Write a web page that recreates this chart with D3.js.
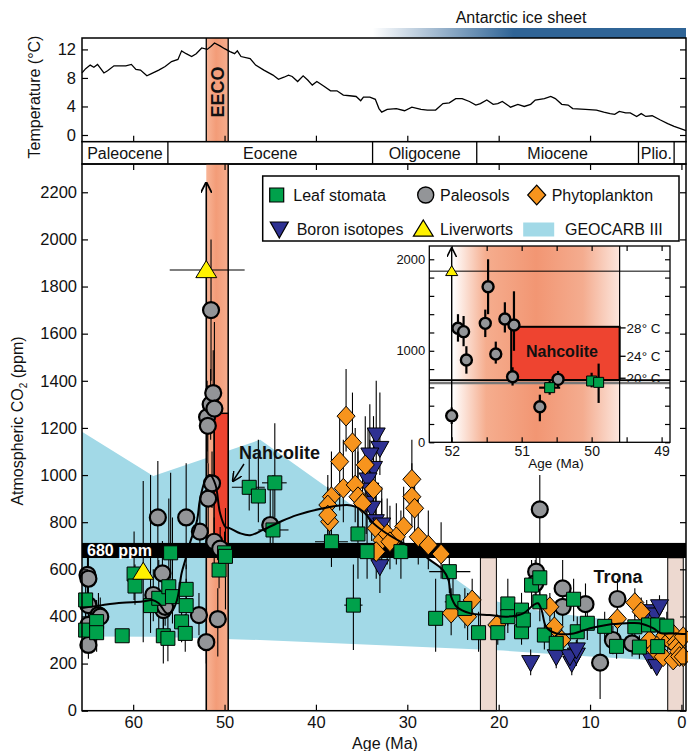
<!DOCTYPE html>
<html><head><meta charset="utf-8">
<script src="https://cdn.jsdelivr.net/npm/d3@7"></script>
<style>
body{margin:0;background:#fff}
svg{display:block}
text{font-family:"Liberation Sans",Arial,Helvetica,sans-serif;fill:#111}
</style>
</head><body>
<svg id="c" width="688" height="751"></svg>
<script>
// ---------------- DATA ----------------
// Temperature curve [age Ma, °C]
const tempCurve = [[65.6,8.7],[65.2,9.3],[64.7,9.8],[64.3,9.5],[63.9,9.9],[63.2,8.7],[62.8,9.0],[62.1,9.7],[61.6,9.7],[60.8,9.7],[60.2,9.9],[59.7,9.2],[59.2,9.1],[58.5,8.3],[58.0,8.6],[57.2,9.1],[56.5,9.6],[55.8,10.3],[55.1,10.6],[54.7,11.8],[54.2,11.4],[53.6,11.0],[53.1,11.4],[52.5,12.2],[51.9,12.0],[51.5,12.4],[51.1,12.9],[50.5,12.5],[50.0,12.1],[49.4,11.7],[48.9,11.4],[48.6,11.8],[48.2,11.0],[47.2,10.7],[46.6,9.8],[45.7,9.1],[44.7,8.4],[44.1,7.8],[43.5,8.1],[43.0,8.4],[42.6,8.2],[42.0,7.5],[41.4,8.3],[40.9,7.7],[40.4,7.0],[39.9,7.5],[39.2,6.9],[38.4,6.2],[37.7,6.2],[37.0,5.6],[36.3,5.5],[35.6,5.4],[35.1,4.8],[34.8,5.3],[34.1,5.3],[33.5,5.0],[33.1,3.7],[32.8,3.2],[32.2,3.6],[31.2,3.7],[30.3,3.4],[29.5,3.9],[28.5,3.6],[27.8,3.5],[26.9,3.5],[26.1,4.4],[25.4,4.5],[24.7,5.1],[24.0,5.1],[23.2,4.7],[22.5,4.2],[22.0,4.4],[21.3,4.9],[20.6,4.3],[20.1,4.4],[19.6,4.7],[18.7,3.9],[17.9,4.3],[17.2,4.0],[16.5,4.3],[16.0,4.9],[15.0,5.1],[14.3,5.4],[13.8,5.1],[13.1,4.3],[12.4,4.2],[11.9,3.7],[10.5,3.6],[9.3,3.5],[8.5,3.2],[7.8,3.0],[7.3,2.9],[6.8,3.3],[6.1,3.1],[5.6,3.1],[4.9,2.6],[4.4,3.0],[3.9,2.6],[3.2,2.7],[2.3,2.1],[1.5,1.6],[0.8,1.2],[0.1,0.9],[-0.5,0.6]];

const epochNames = ["Paleocene","Eocene","Oligocene","Miocene","Plio.",""];
const epochBounds = [65.6,56.2,33.8,22.4,4.7,0.8,-0.5];

const tempTicks = [0,4,8,12];
const co2Ticks = [0,200,400,600,800,1000,1200,1400,1600,1800,2000,2200];
const ageTicks = [0,10,20,30,40,50,60];
const insetAgeTicks = [52,51,50,49];
const insetCo2Ticks = [0,1000,2000];

// GEOCARB III envelope [age, lower, upper]
const geocarb = [[65.6,315,1184],[57.8,314,996],[46.1,300,1150],[22.0,260,484],[19.5,255,456],[15,243,420],[10,230,395],[5,218,372],[0,207,352],[-0.5,206,350]];

// Proxy records: [age, ppm, errLow, errHigh, ageErrOld, ageErrYoung]
const leafStomata = [
[65.2,470,400,560],[65.2,342,270,420],[64.0,378,300,470],[64.0,331,250,410],[61.2,318,300,340],
[59.9,580,470,760],[59.8,529,450,620],[58.1,446,330,1000],[57.2,477,330,640],[56.1,526,400,900],
[55.9,670,560,1010],[55.7,484,370,820],[56.7,318,200,430],[56.2,307,210,420],[54.2,515,420,620],
[54.2,446,350,560],[54.7,377,290,470],[54.3,328,250,410],
[50.6,597,520,680,50.75,50.45],[50.0,670,600,760],[49.9,655,430,860],
[47.3,948,850,1080,49.2,45.6],[46.3,911,800,1150],[44.5,967,820,1220,45.9,43.2],[44.7,767,650,1000,46.3,43.0],
[38.3,717,610,1100,40.1,36.5],[35.4,750,560,1150],[34.4,675,560,900],[30.7,675,560,850],
[35.9,448,258,620,36.9,34.9],[26.9,392,250,560],[25.4,590,500,680,27.6,23.1],[25.0,462,380,560,25.9,24.2],
[23.7,434,350,520,24.5,22.9],[22.2,331,250,420],[20.1,331,280,380],[19.0,453,360,560],[19.0,399,330,460],
[17.5,427,350,500],[17.5,335,280,400],[17.3,385,320,450],[16.4,533,440,640],[15.5,564,470,680],
[15.5,462,380,560],[15.0,321,260,380],[13.7,286,220,350],[11.8,473,380,560],[11.4,335,280,400],
[10.3,371,300,450],[8.4,358,300,420],[7.1,273,220,330],[5.1,356,300,420],[4.6,270,220,320],
[3.6,364,300,430],[2.6,364,300,430],[2.6,272,230,320],[1.6,359,300,420]];

const paleosols = [
[65.0,576,480,700],[64.9,560,470,650],[64.9,448,360,540],[63.8,406,320,500],[63.6,399,330,480],
[64.9,364,300,440],[64.9,279,220,340],[57.3,820,600,1060],[54.2,820,600,1050],[56.8,583,450,720],
[57.8,491,380,600],[56.7,427,340,520],[56.5,441,360,520],[52.8,406,320,500],[52.7,760,650,880],
[52.0,291,200,380],[51.91,1246,1100,1400],[51.83,1209,1050,1380],[51.79,900,750,1050],
[51.48,1700,1400,2000],[51.52,1300,1150,1450],[51.37,965,860,1100],[51.24,1348,1200,1530],
[51.11,1282,1000,1650],[51.13,717,620,820],[50.74,389,230,520],[50.48,688,600,780],
[45.0,788,650,950],[15.5,854,700,1000],[15.9,590,480,700],[16.0,540,440,640],[13.0,519,420,640],
[13.0,441,360,520],[10.5,452,380,540],[8.9,204,50,330],[7.0,474,380,560],[7.5,300,240,360],[5.4,286,230,340]];

const phytoplankton = [
[36.7,1250,1100,1450],[36.0,1137,950,1350],[37.4,1057,850,1250],[34.6,1043,900,1250],[37.0,944,800,1150],
[35.7,958,800,1200],[38.3,908,750,1050],[38.7,873,750,1000],[35.4,908,780,1100],[33.7,941,820,1100],
[34.9,880,750,1050],[38.5,802,700,900],[38.7,830,720,950],[29.5,982,850,1150],[29.5,908,780,1050],
[29.2,859,750,980],[33.4,774,650,950],[32.8,724,600,900],[32.2,750,620,900],[30.4,781,650,950],
[31.2,738,620,880],[28.8,738,620,900],[27.7,703,600,850],[26.3,665,560,800],[33.4,675,560,820],
[31.9,717,600,870],[25.2,414,320,520],[23.4,399,300,500],[22.9,470,380,560],[20.2,364,320,410],
[14.4,441,380,500],[13.9,356,300,420],[13.1,300,250,350],[7.0,390,330,450],[5.1,459,400,520],
[4.4,420,360,480],[3.5,300,260,350],[2.9,258,220,300],[2.3,290,250,340],[2.0,229,200,270],[1.8,320,280,370],
[1.3,300,260,340],[1.0,330,290,380],[0.9,215,190,250],[0.6,290,250,330],[0.5,272,240,310],[0.3,250,220,290],
[0.2,230,200,260],[-0.2,314,280,350],[-0.2,229,200,260]];

const boron = [
[33.4,1170,1050,1400],[33.0,1113,1000,1350],[34.1,1085,950,1300],[33.7,1028,900,1250],[34.3,979,850,1200],
[34.1,936,800,1150],[34.5,880,750,1100],[33.9,859,720,1050],[33.5,802,650,1000],[32.8,788,650,950],
[33.0,611,500,750],[16.5,204,150,260],[13.7,229,180,280],[12.0,201,150,250],[11.5,236,190,290],
[12.2,229,180,280],[11.5,258,210,300],[3.8,420,380,470],[2.9,406,360,450],[2.4,441,400,490],
[3.3,215,180,250],[2.7,187,160,220],[2.5,265,230,300]];

const liverworts = [[58.9,590,290,975],[52.0,1870,null,null,56.0,47.8]];
const liverwortArrowTop = 2240;

// LOESS-type fit through all proxies [age, ppm]
const fitCurve = [[65.6,436],[63.4,448],[61.2,458],[59.0,463],[57.9,470],[57.2,456],[56.3,413],[55.8,420],[55.2,470],[54.7,583],[54.3,639],[53.8,710],[53.0,809],[52.7,894],[52.1,979],[51.6,1000],[51.0,960],[50.5,840],[49.9,780],[49.4,774],[48.3,753],[47.2,745],[45.8,767],[43.9,802],[42.1,830],[39.2,859],[36.6,873],[35.7,866],[34.8,844],[33.7,795],[32.3,753],[30.4,710],[29.0,682],[27.5,639],[26.1,597],[25.5,555],[25.2,484],[24.6,441],[23.1,413],[21.0,406],[19.1,399],[17.3,413],[16.2,448],[15.7,456],[15.3,427],[14.8,356],[13.7,328],[11.8,328],[10.0,350],[8.2,364],[6.0,371],[4.6,371],[3.1,350],[2.2,328],[0.9,328],[-0.5,325]];

const eecoBand = [52.0, 49.6];
const tronaBands = [[22.0,20.25],[1.5,-0.2]];
const nahcolite = {ageOld:51.15, ageYoung:49.6, low:680, high:1262};
const threshold = 680;
const nahTemps = [[1250,"28° C"],[940,"24° C"],[700,"20° C"]];

const legendItems = [
 ["square","Leaf stomata"],["circle","Paleosols"],["diamond","Phytoplankton"],
 ["down","Boron isotopes"],["up","Liverworts"],["rect","GEOCARB III"]];

// ---------------- STYLE ----------------
const C = {green:"#00A14B", gray:"#939598", orange:"#F7941D", navy:"#2E3192", yellow:"#FFF200",
  blue:"#A2D9E7", nah:"#EE4430", trona:"#EDD9D0", ice:"#2F6496"};

const svg = d3.select("#c");
const L = 82, R = 686;
const x = d3.scaleLinear().domain([65.6,-0.5]).range([L,R]);
const yT = d3.scaleLinear().domain([-0.94,13.6]).range([141.7,38]);
const y = d3.scaleLinear().domain([0,2320]).range([710.7,164]);
const xi = d3.scaleLinear().domain([52.32,48.88]).range([429.3,670]);
const yi = d3.scaleLinear().domain([0,2145]).range([442.3,246]);
const fmt = d3.format("d");

const defs = svg.append("defs");
const g1 = defs.append("linearGradient").attr("id","eeco");
[[0,"#F8B597"],[0.45,"#F39C78"],[1,"#F6AD8D"]].forEach(s=>g1.append("stop").attr("offset",s[0]).attr("stop-color",s[1]));
const g2 = defs.append("linearGradient").attr("id","ice");
[[0,"#ffffff"],[0.45,C.ice],[1,C.ice]].forEach(s=>g2.append("stop").attr("offset",s[0]).attr("stop-color",s[1]));
const g3 = defs.append("linearGradient").attr("id","insetBand");
[[0,"#ffffff"],[0.2,"#F5AD8E"],[0.5,"#F29673"],[0.78,"#F4AC8F"],[1,"#FCE6DD"]].forEach(s=>g3.append("stop").attr("offset",s[0]).attr("stop-color",s[1]));
defs.append("marker").attr("id","arr").attr("viewBox","0 0 10 10").attr("refX",9).attr("refY",5)
  .attr("markerWidth",7).attr("markerHeight",7).attr("orient","auto-start-reverse")
  .append("path").attr("d","M0,0 L10,5 L0,10").attr("fill","none").attr("stroke","#000").attr("stroke-width",1.6);

const FONT = 16.5;

// ---------------- ANTARCTIC ICE SHEET ----------------
svg.append("rect").attr("x",x(33.9)+1).attr("y",28).attr("width",R-x(33.9)-1).attr("height",10).attr("fill","url(#ice)");
svg.append("text").attr("x",521).attr("y",23).attr("text-anchor","middle").attr("font-size",16).text("Antarctic ice sheet");

// ---------------- TEMPERATURE PANEL ----------------
const topG = svg.append("g");
topG.append("rect").attr("x",x(eecoBand[0])).attr("y",38).attr("width",x(eecoBand[1])-x(eecoBand[0])).attr("height",141.7-38).attr("fill","url(#eeco)");
eecoBand.forEach(a=>topG.append("line").attr("x1",x(a)).attr("x2",x(a)).attr("y1",38).attr("y2",141.7).attr("stroke","#000").attr("stroke-width",1.3));
topG.append("text").attr("transform",`translate(${(x(52)+x(49.6))/2+6.5},92) rotate(-90)`).attr("text-anchor","middle")
  .attr("font-size",18).attr("font-weight","bold").text("EECO");
topG.append("path").datum(tempCurve).attr("fill","none").attr("stroke","#000").attr("stroke-width",1.3)
  .attr("d",d3.line().x(d=>x(d[0])).y(d=>yT(d[1])));
topG.append("g").attr("transform",`translate(${L},0)`).call(d3.axisLeft(yT).tickValues(tempTicks).tickSize(-6).tickPadding(6))
  .call(g=>g.select(".domain").remove()).call(g=>g.selectAll("text").attr("font-size",FONT));
topG.append("g").attr("transform",`translate(${R},0)`).call(d3.axisRight(yT).tickValues(tempTicks).tickSize(-6).tickFormat(""))
  .call(g=>g.select(".domain").remove());
topG.append("g").attr("transform",`translate(0,141.7)`).call(d3.axisBottom(x).tickValues([10,20,30,40,50,60]).tickSize(-6).tickFormat(""))
  .call(g=>g.select(".domain").remove());
topG.append("rect").attr("x",L).attr("y",38).attr("width",R-L).attr("height",141.7-38).attr("fill","none").attr("stroke","#000").attr("stroke-width",1.5);
topG.append("text").attr("transform","translate(40,97) rotate(-90)").attr("text-anchor","middle").attr("font-size",16).text("Temperature (°C)");

// ---------------- EPOCH BAR ----------------
const ep = svg.append("g");
ep.append("rect").attr("x",L).attr("y",141.7).attr("width",R-L).attr("height",22.3).attr("fill","#fff").attr("stroke","#000").attr("stroke-width",1.5);
epochBounds.slice(1,-1).forEach(a=>ep.append("line").attr("x1",x(a)).attr("x2",x(a)).attr("y1",141.7).attr("y2",164).attr("stroke","#000").attr("stroke-width",1.3));
epochNames.forEach((n,i)=>ep.append("text").attr("x",(x(epochBounds[i])+x(epochBounds[i+1]))/2).attr("y",158.5)
  .attr("text-anchor","middle").attr("font-size",16).text(n));

// ---------------- MAIN PANEL ----------------
const mainG = svg.append("g");
mainG.append("path").datum(geocarb).attr("fill",C.blue)
  .attr("d",d3.area().x(d=>x(d[0])).y0(d=>y(d[1])).y1(d=>y(d[2])));
tronaBands.forEach(b=>mainG.append("rect").attr("x",x(b[0])).attr("y",y(threshold-31)).attr("width",x(b[1])-x(b[0]))
  .attr("height",y(0)-y(threshold-31)).attr("fill",C.trona).attr("stroke","#000").attr("stroke-width",1));
mainG.append("rect").attr("x",x(eecoBand[0])).attr("y",164).attr("width",x(eecoBand[1])-x(eecoBand[0])).attr("height",y(0)-164).attr("fill","url(#eeco)");
mainG.append("line").attr("x1",x(eecoBand[1])).attr("x2",x(eecoBand[1])).attr("y1",164).attr("y2",y(0)).attr("stroke","#000").attr("stroke-width",1.5);
mainG.append("rect").attr("x",x(nahcolite.ageOld)).attr("y",y(nahcolite.high)).attr("width",x(nahcolite.ageYoung)-x(nahcolite.ageOld))
  .attr("height",y(nahcolite.low)-y(nahcolite.high)).attr("fill",C.nah).attr("stroke","#000").attr("stroke-width",1.5);
// 680 ppm bar
mainG.append("rect").attr("x",L).attr("y",y(threshold+32)).attr("width",R-L).attr("height",y(threshold-32)-y(threshold+32)).attr("fill","#000");

// liverwort lower-limit arrow line
mainG.append("line").attr("x1",x(52.0)).attr("x2",x(52.0)).attr("y1",y(0)).attr("y2",y(liverwortArrowTop))
  .attr("stroke","#000").attr("stroke-width",1.6).attr("marker-end","url(#arr)");

// error bars
function errBars(g, data, xs, ys, w){
  data.forEach(d=>{
    if(d[2]!=null && d[3]!=null) g.append("line").attr("x1",xs(d[0])).attr("x2",xs(d[0])).attr("y1",ys(d[2])).attr("y2",ys(d[3])).attr("stroke","#000").attr("stroke-width",w);
    if(d[4]!=null) g.append("line").attr("x1",xs(d[4])).attr("x2",xs(d[5])).attr("y1",ys(d[1])).attr("y2",ys(d[1])).attr("stroke","#000").attr("stroke-width",w);
  });
}
const eb = mainG.append("g");
[paleosols,boron,phytoplankton,leafStomata,liverworts].forEach(s=>errBars(eb,s,x,y,1.1));

const shapes = {
  square:(s)=>`M${-s},${-s}h${2*s}v${2*s}h${-2*s}Z`,
  diamond:(s)=>`M0,${-s*1.1}L${s},0L0,${s*1.1}L${-s},0Z`,
  down:(s)=>`M${-s},${-s*0.78}L${s},${-s*0.78}L0,${s}Z`,
  up:(s)=>`M0,${-s}L${s*1.1},${s*0.8}L${-s*1.1},${s*0.8}Z`
};
function drawMarks(g, data, type, xs, ys, size, fill, sw){
  data.forEach(d=>{
    if(type==="circle") g.append("circle").attr("cx",xs(d[0])).attr("cy",ys(d[1])).attr("r",size).attr("fill",fill).attr("stroke","#000").attr("stroke-width",sw);
    else g.append("path").attr("d",shapes[type](size)).attr("transform",`translate(${xs(d[0])},${ys(d[1])})`).attr("fill",fill).attr("stroke","#000").attr("stroke-width",sw).attr("stroke-linejoin","miter");
  });
}
const mk = mainG.append("g");
drawMarks(mk,paleosols,"circle",x,y,8,C.gray,2.2);
drawMarks(mk,boron,"down",x,y,9,C.navy,1);
drawMarks(mk,phytoplankton,"diamond",x,y,9,C.orange,1);
drawMarks(mk,leafStomata,"square",x,y,7,C.green,1);
drawMarks(mk,liverworts,"up",x,y,9.5,C.yellow,1);

mainG.append("path").datum(fitCurve).attr("fill","none").attr("stroke","#000").attr("stroke-width",2)
  .attr("d",d3.line().curve(d3.curveCatmullRom).x(d=>x(d[0])).y(d=>y(d[1])));

// labels
mainG.append("text").attr("x",87).attr("y",y(threshold)+6).attr("font-size",16).attr("font-weight","bold").style("fill","#fff").text("680 ppm");
mainG.append("text").attr("x",239).attr("y",459).attr("font-size",18).attr("font-weight","bold").text("Nahcolite");
mainG.append("line").attr("x1",244).attr("y1",464).attr("x2",233).attr("y2",481).attr("stroke","#000").attr("stroke-width",1.4).attr("marker-end","url(#arr)");
mainG.append("text").attr("x",618).attr("y",583).attr("text-anchor","middle").attr("font-size",18).attr("font-weight","bold").text("Trona");

// axes
mainG.append("g").attr("transform",`translate(${L},0)`).call(d3.axisLeft(y).tickValues(co2Ticks).tickSize(-6).tickPadding(5).tickFormat(fmt))
  .call(g=>g.select(".domain").remove()).call(g=>g.selectAll("text").attr("font-size",FONT));
mainG.append("g").attr("transform",`translate(${R},0)`).call(d3.axisRight(y).tickValues(co2Ticks).tickSize(-6).tickFormat(""))
  .call(g=>g.select(".domain").remove());
mainG.append("g").attr("transform",`translate(0,${y(0)})`).call(d3.axisBottom(x).tickValues(ageTicks).tickSize(-6).tickPadding(6).tickFormat(fmt))
  .call(g=>g.select(".domain").remove()).call(g=>g.selectAll("text").attr("font-size",FONT));
mainG.append("g").attr("transform",`translate(0,164)`).call(d3.axisTop(x).tickValues(ageTicks).tickSize(-6).tickFormat(""))
  .call(g=>g.select(".domain").remove());
mainG.append("rect").attr("x",L).attr("y",164).attr("width",R-L).attr("height",y(0)-164).attr("fill","none").attr("stroke","#000").attr("stroke-width",1.5);
mainG.append("text").attr("x",385).attr("y",749).attr("text-anchor","middle").attr("font-size",16).text("Age (Ma)");
const yl = mainG.append("text").attr("transform","translate(23,421) rotate(-90)").attr("text-anchor","middle").attr("font-size",16);
yl.append("tspan").text("Atmospheric CO");
yl.append("tspan").attr("font-size",10).attr("dy",4).text("2");
yl.append("tspan").attr("dy",-4).text(" (ppm)");

// ---------------- LEGEND ----------------
const lg = svg.append("g");
lg.append("rect").attr("x",262.7).attr("y",176).attr("width",416.3).attr("height",65).attr("fill","#fff").attr("stroke","#000").attr("stroke-width",1.5);
const legPos = [[276.7,195,293.3],[425.7,195,440],[536.7,195,551.7],[279.3,229,296.7],[423.3,229,440],[538.7,229,565]];
const legFill = [C.green,C.gray,C.orange,C.navy,C.yellow,C.blue];
legendItems.forEach((it,i)=>{
  const [px,py,tx] = legPos[i];
  if(it[0]==="circle") lg.append("circle").attr("cx",px).attr("cy",py).attr("r",8).attr("fill",legFill[i]).attr("stroke","#000").attr("stroke-width",1.4);
  else if(it[0]==="rect") lg.append("rect").attr("x",px-15.5).attr("y",py-6.5).attr("width",31).attr("height",14).attr("fill",legFill[i]);
  else lg.append("path").attr("d",shapes[it[0]](it[0]==="square"?7:9)).attr("transform",`translate(${px},${py})`).attr("fill",legFill[i]).attr("stroke","#000").attr("stroke-width",1.2);
  lg.append("text").attr("x",tx).attr("y",py+6).attr("font-size",16).text(it[1]);
});

// ---------------- INSET ----------------
const ins = svg.append("g");
ins.append("rect").attr("x",429.3).attr("y",246).attr("width",670-429.3).attr("height",442.3-246).attr("fill","#fff");
ins.append("rect").attr("x",xi(52.0)+1).attr("y",246).attr("width",xi(49.6)-xi(52.0)-1).attr("height",442.3-246).attr("fill","url(#insetBand)");
ins.append("rect").attr("x",xi(nahcolite.ageOld)).attr("y",yi(nahcolite.high)).attr("width",xi(nahcolite.ageYoung)-xi(nahcolite.ageOld))
  .attr("height",yi(nahcolite.low)-yi(nahcolite.high)).attr("fill",C.nah).attr("stroke","#000").attr("stroke-width",2);
ins.append("text").attr("x",562).attr("y",357).attr("text-anchor","middle").attr("font-size",16).attr("font-weight","bold").text("Nahcolite");
nahTemps.forEach(t=>{
  ins.append("line").attr("x1",xi(49.6)).attr("x2",xi(49.6)+6).attr("y1",yi(t[0])).attr("y2",yi(t[0])).attr("stroke","#000").attr("stroke-width",1.3);
  ins.append("text").attr("x",xi(49.6)+7).attr("y",yi(t[0])+5).attr("font-size",13.5).text(t[1]);
});
ins.append("line").attr("x1",429.3).attr("x2",670).attr("y1",yi(threshold)+3).attr("y2",yi(threshold)+3).attr("stroke","#777").attr("stroke-width",2.5);
ins.append("line").attr("x1",429.3).attr("x2",670).attr("y1",yi(threshold)).attr("y2",yi(threshold)).attr("stroke","#000").attr("stroke-width",1.8);
ins.append("line").attr("x1",429.3).attr("x2",670).attr("y1",yi(1870)).attr("y2",yi(1870)).attr("stroke","#000").attr("stroke-width",1);
ins.append("line").attr("x1",xi(49.6)).attr("x2",xi(49.6)).attr("y1",246).attr("y2",442.3).attr("stroke","#000").attr("stroke-width",1.2);
ins.append("line").attr("x1",xi(52.0)).attr("x2",xi(52.0)).attr("y1",yi(0)).attr("y2",yi(2120)).attr("stroke","#000").attr("stroke-width",1.4).attr("marker-end","url(#arr)");
const inRange = d=>d[0]<=52.32 && d[0]>=48.88;
const ieb = ins.append("g");
[paleosols,leafStomata].forEach(s=>errBars(ieb,s.filter(inRange),xi,yi,2.2));
drawMarks(ins,paleosols.filter(inRange),"circle",xi,yi,5.5,C.gray,2.4);
drawMarks(ins,leafStomata.filter(inRange),"square",xi,yi,5,C.green,1);
drawMarks(ins,liverworts.filter(inRange),"up",xi,yi,5.5,C.yellow,1);
const iTicksX = d3.range(52,48.9,-0.5);
ins.append("g").attr("transform",`translate(0,442.3)`).call(d3.axisBottom(xi).tickValues(iTicksX).tickSize(-5).tickFormat(d=>insetAgeTicks.includes(d)?d:"").tickPadding(4))
  .call(g=>g.select(".domain").remove()).call(g=>g.selectAll("text").attr("font-size",14));
ins.append("g").attr("transform",`translate(0,246)`).call(d3.axisTop(xi).tickValues(iTicksX).tickSize(-5).tickFormat(""))
  .call(g=>g.select(".domain").remove());
ins.append("g").attr("transform",`translate(429.3,0)`).call(d3.axisLeft(yi).tickValues(d3.range(0,2001,200)).tickSize(-5).tickPadding(4).tickFormat(d=>insetCo2Ticks.includes(d)?d:""))
  .call(g=>g.select(".domain").remove()).call(g=>g.selectAll("text").attr("font-size",13));
ins.append("g").attr("transform",`translate(670,0)`).call(d3.axisRight(yi).tickValues(d3.range(0,2001,200)).tickSize(-5).tickFormat(""))
  .call(g=>g.select(".domain").remove());
ins.append("rect").attr("x",429.3).attr("y",246).attr("width",670-429.3).attr("height",442.3-246).attr("fill","none").attr("stroke","#000").attr("stroke-width",1.3);
ins.append("text").attr("x",556).attr("y",468).attr("text-anchor","middle").attr("font-size",13.5).text("Age (Ma)");
svg.selectAll(".tick line").attr("stroke","#000").attr("stroke-width",1.2);
</script>
</body></html>
